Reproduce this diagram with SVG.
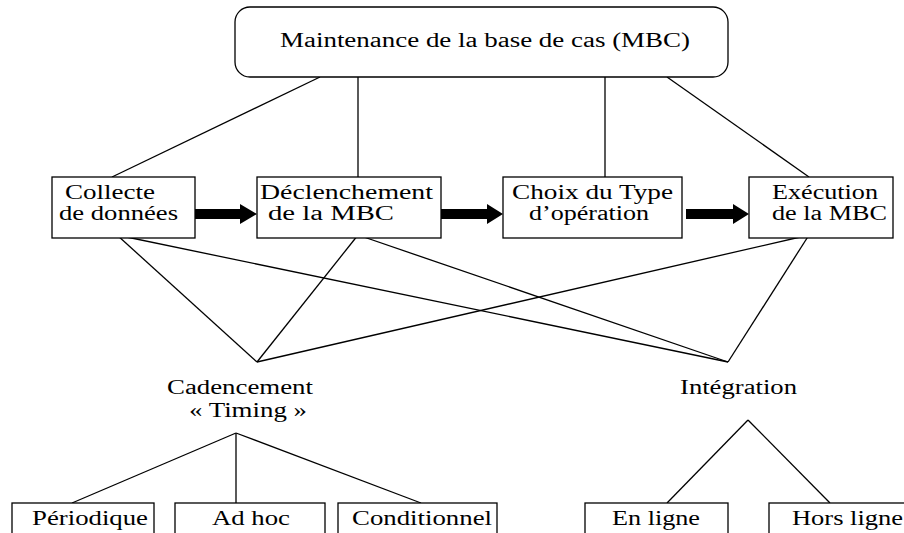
<svg xmlns="http://www.w3.org/2000/svg" width="904" height="533" viewBox="0 0 904 533">
<style>
.b{fill:#fff;stroke:#000;stroke-width:1.3}
.l{stroke:#000;stroke-width:1.3;fill:none}
.t{font-family:'Liberation Serif','DejaVu Serif','Times New Roman',serif;font-size:20px;fill:#000}
.a{fill:#000}
</style>
<rect width="904" height="533" fill="#fff"/>
<g id="connectors">
<line class="l" x1="320" y1="77" x2="112" y2="177"/>
<line class="l" x1="358" y1="77" x2="358" y2="177"/>
<line class="l" x1="605" y1="77" x2="605" y2="177"/>
<line class="l" x1="667" y1="77" x2="809" y2="177"/>
<line class="l" x1="117" y1="235" x2="257" y2="362"/>
<line class="l" x1="117" y1="235" x2="728" y2="362"/>
<line class="l" x1="358" y1="235" x2="257" y2="362"/>
<line class="l" x1="358" y1="235" x2="728" y2="362"/>
<line class="l" x1="809" y1="235" x2="257" y2="362"/>
<line class="l" x1="809" y1="235" x2="728" y2="362"/>
<line class="l" x1="236" y1="433" x2="72" y2="503"/>
<line class="l" x1="236" y1="433" x2="236" y2="503"/>
<line class="l" x1="236" y1="433" x2="421" y2="503"/>
<line class="l" x1="748" y1="420" x2="667" y2="503"/>
<line class="l" x1="748" y1="420" x2="830" y2="503"/>
<polygon class="a" points="195,209 240,209 240,204 257,214 240,224 240,219 195,219"/>
<polygon class="a" points="441,209 487,209 487,204 503,214 487,224 487,219 441,219"/>
<polygon class="a" points="686,209 733,209 733,204 749,214 733,224 733,219 686,219"/>
</g>
<g id="mbc">
<rect class="b" x="235" y="7" width="493" height="70" rx="15" ry="15"/>
<text class="t" font-family="Liberation Serif, serif" x="280" y="47" textLength="410" lengthAdjust="spacingAndGlyphs">Maintenance de la base de cas (MBC)</text>
</g>
<g id="collecte">
<rect class="b" x="52" y="177" width="143" height="61"/>
<text class="t" x="65" y="199" textLength="90" lengthAdjust="spacingAndGlyphs">Collecte</text>
<text class="t" x="59" y="220" textLength="119" lengthAdjust="spacingAndGlyphs">de données</text>
</g>
<g id="declenchement">
<rect class="b" x="257" y="177" width="184" height="61"/>
<text class="t" x="260" y="199" textLength="173" lengthAdjust="spacingAndGlyphs">Déclenchement</text>
<text class="t" x="268" y="220" textLength="126" lengthAdjust="spacingAndGlyphs">de la MBC</text>
</g>
<g id="choix">
<rect class="b" x="503" y="177" width="179" height="61"/>
<text class="t" x="512" y="199" textLength="161" lengthAdjust="spacingAndGlyphs">Choix du Type</text>
<text class="t" x="529" y="220" textLength="120" lengthAdjust="spacingAndGlyphs">d’opération</text>
</g>
<g id="execution">
<rect class="b" x="749" y="177" width="144" height="61"/>
<text class="t" x="772" y="199" textLength="106" lengthAdjust="spacingAndGlyphs">Exécution</text>
<text class="t" x="772" y="220" textLength="115" lengthAdjust="spacingAndGlyphs">de la MBC</text>
</g>
<g id="cadencement">
<text class="t" x="167" y="394" textLength="146" lengthAdjust="spacingAndGlyphs">Cadencement</text>
<text class="t" x="189" y="417" textLength="118" lengthAdjust="spacingAndGlyphs">« Timing »</text>
</g>
<g id="integration">
<text class="t" x="680" y="394" textLength="117" lengthAdjust="spacingAndGlyphs">Intégration</text>
</g>
<g id="periodique">
<rect class="b" x="12" y="503" width="142" height="45"/>
<text class="t" x="32" y="525" textLength="116" lengthAdjust="spacingAndGlyphs">Périodique</text>
</g>
<g id="adhoc">
<rect class="b" x="175" y="503" width="150" height="45"/>
<text class="t" x="212" y="525" textLength="78" lengthAdjust="spacingAndGlyphs">Ad hoc</text>
</g>
<g id="conditionnel">
<rect class="b" x="338" y="503" width="159" height="45"/>
<text class="t" x="352" y="525" textLength="140" lengthAdjust="spacingAndGlyphs">Conditionnel</text>
</g>
<g id="enligne">
<rect class="b" x="585" y="503" width="143" height="45"/>
<text class="t" x="612" y="525" textLength="88" lengthAdjust="spacingAndGlyphs">En ligne</text>
</g>
<g id="horsligne">
<rect class="b" x="769" y="503" width="150" height="45"/>
<text class="t" x="792" y="525" textLength="111" lengthAdjust="spacingAndGlyphs">Hors ligne</text>
</g>
</svg>
